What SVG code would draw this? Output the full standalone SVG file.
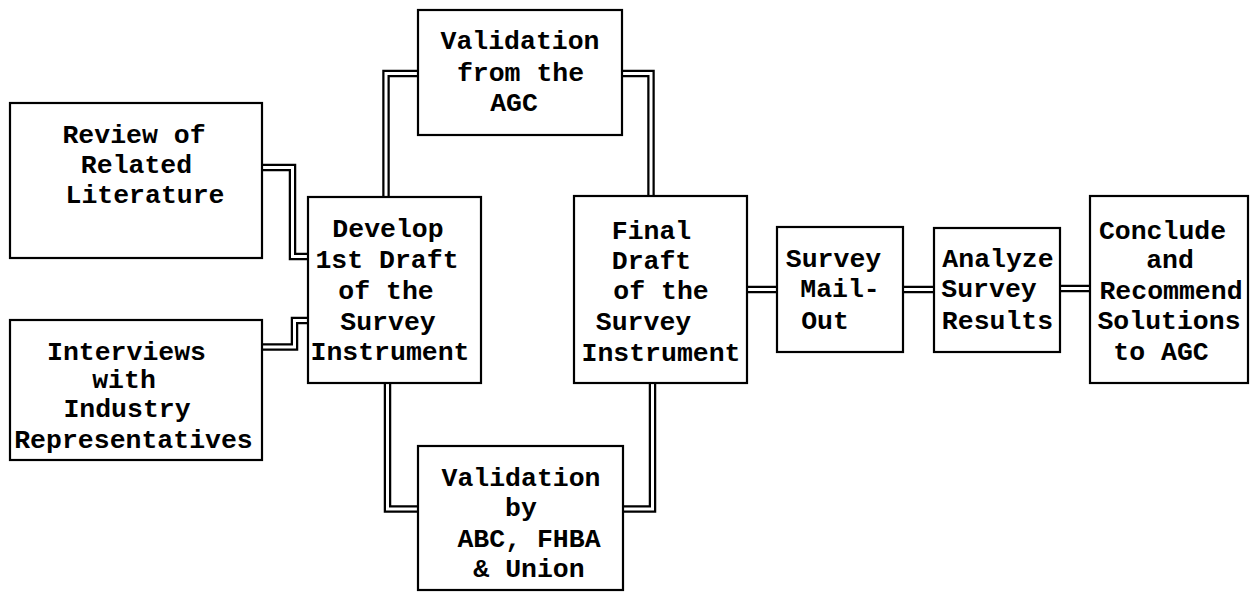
<svg xmlns="http://www.w3.org/2000/svg" width="1251" height="601" viewBox="0 0 1251 601">
<style>
.box{fill:#fff;stroke:#000;stroke-width:2.2}
.outer{fill:none;stroke:#000;stroke-width:7.5;stroke-linejoin:miter}
.inner{fill:none;stroke:#fff;stroke-width:3;stroke-linejoin:miter}
text{font-family:"Liberation Mono","Courier New",monospace;font-size:26.5px;font-weight:bold;text-anchor:middle;fill:#000}
</style>
<rect width="1251" height="601" fill="#fff"/>
<g id="connectors">
<path class="outer" d="M262,167.5 H292.5 V256.5 H310"/>
<path class="inner" d="M262,167.5 H292.5 V256.5 H310"/>
<path class="outer" d="M262,347 H294.5 V320.5 H310"/>
<path class="inner" d="M262,347 H294.5 V320.5 H310"/>
<path class="outer" d="M386,199 V73.5 H420"/>
<path class="inner" d="M386,199 V73.5 H420"/>
<path class="outer" d="M620,73.5 H651 V198"/>
<path class="inner" d="M620,73.5 H651 V198"/>
<path class="outer" d="M387.5,381 V509 H420"/>
<path class="inner" d="M387.5,381 V509 H420"/>
<path class="outer" d="M621,509 H652.5 V381"/>
<path class="inner" d="M621,509 H652.5 V381"/>
<path class="outer" d="M745,289.5 H779"/>
<path class="inner" d="M745,289.5 H779"/>
<path class="outer" d="M901,289.5 H936"/>
<path class="inner" d="M901,289.5 H936"/>
<path class="outer" d="M1058,288.5 H1092"/>
<path class="inner" d="M1058,288.5 H1092"/>
</g>
<g id="review">
<rect class="box" x="10" y="103" width="252" height="155"/>
<text x="134" y="143">Review of</text>
<text x="136.5" y="173">Related</text>
<text x="145" y="203">Literature</text>
</g>
<g id="interviews">
<rect class="box" x="10" y="320" width="252" height="140"/>
<text x="126.5" y="360">Interviews</text>
<text x="124" y="388">with</text>
<text x="127" y="417">Industry</text>
<text x="133.5" y="448">Representatives</text>
</g>
<g id="develop">
<rect class="box" x="308" y="197" width="173" height="186"/>
<text x="388" y="237">Develop</text>
<text x="387" y="268">1st Draft</text>
<text x="386" y="299">of the</text>
<text x="388" y="330">Survey</text>
<text x="390" y="360">Instrument</text>
</g>
<g id="validation-agc">
<rect class="box" x="418" y="10" width="204" height="125"/>
<text x="520" y="49">Validation</text>
<text x="520.5" y="81">from the</text>
<text x="514" y="111">AGC</text>
</g>
<g id="validation-abc">
<rect class="box" x="418" y="446" width="205" height="144"/>
<text x="521" y="486">Validation</text>
<text x="521" y="516">by</text>
<text x="529" y="547">ABC, FHBA</text>
<text x="529" y="577">&amp; Union</text>
</g>
<g id="final-draft">
<rect class="box" x="574" y="196" width="173" height="187"/>
<text x="651.5" y="239">Final</text>
<text x="651.5" y="269">Draft</text>
<text x="661" y="299">of the</text>
<text x="643.5" y="330">Survey</text>
<text x="661" y="361">Instrument</text>
</g>
<g id="mail-out">
<rect class="box" x="777" y="227" width="126" height="125"/>
<text x="833.5" y="267">Survey</text>
<text x="840" y="297">Mail-</text>
<text x="825" y="329">Out</text>
</g>
<g id="analyze">
<rect class="box" x="934" y="228" width="126" height="124"/>
<text x="998" y="267">Analyze</text>
<text x="989" y="297">Survey</text>
<text x="997.5" y="329">Results</text>
</g>
<g id="conclude">
<rect class="box" x="1090" y="196" width="158" height="187"/>
<text x="1162.5" y="239">Conclude</text>
<text x="1170" y="268">and</text>
<text x="1171" y="299">Recommend</text>
<text x="1169" y="329">Solutions</text>
<text x="1161" y="360">to AGC</text>
</g>
</svg>
